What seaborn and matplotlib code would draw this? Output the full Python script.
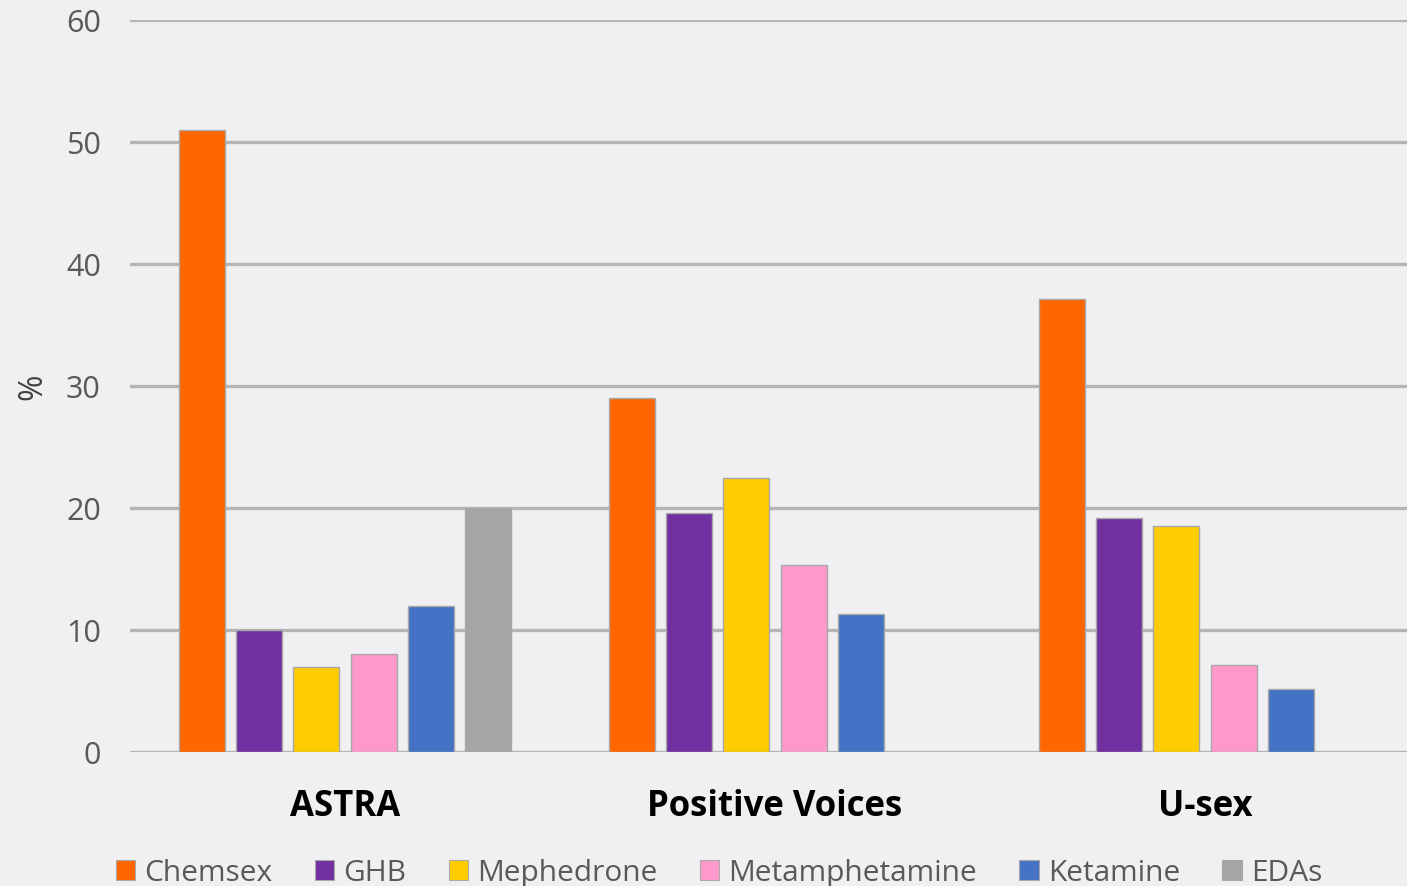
import matplotlib
matplotlib.use("Agg")
import matplotlib.pyplot as plt
import seaborn as sns
import pandas as pd
import numpy as np

# Prevalence of drug use (%) by study
studies = ["ASTRA", "Positive Voices", "U-sex"]
drugs = ["Chemsex", "GHB", "Mephedrone", "Metamphetamine", "Ketamine", "EDAs"]
chemsex = [51.0, 29.0, 37.1]
ghb = [10.0, 19.6, 19.2]
mephedrone = [7.0, 22.5, 18.5]
metamphetamine = [8.0, 15.3, 7.1]
ketamine = [12.0, 11.3, 5.2]
edas = [20.0, np.nan, np.nan]
colors = ["#FF6600", "#7030A0", "#FFCC00", "#FF99CC", "#4472C4", "#A5A5A5"]
yticks = [0, 10, 20, 30, 40, 50, 60]

series = [chemsex, ghb, mephedrone, metamphetamine, ketamine, edas]
rows = []
for drug, vals in zip(drugs, series):
    for study, v in zip(studies, vals):
        rows.append({"study": study, "drug": drug, "value": v})
df = pd.DataFrame(rows)

bg = "#F0F0F2"
sns.set_theme(style="white")
plt.rcParams["font.family"] = ["Open Sans", "DejaVu Sans"]

fig = plt.figure(figsize=(14.07, 8.87), dpi=100, facecolor=bg)
W, H = 1407, 887
ax = fig.add_axes([130 / W, (H - 753) / H, 1290 / W, (753 - 21) / H])
ax.set_facecolor(bg)

sns.barplot(data=df, x="study", y="value", hue="drug", hue_order=drugs,
            order=studies, palette=colors, saturation=1, width=0.8, gap=0.2,
            edgecolor="#A8A8A8", linewidth=1, errorbar=None, ax=ax,
            legend=False, zorder=3)

ax.set_xlim(-0.5, 2.5)
ax.set_ylim(0, 60)
ax.set_yticks(yticks)
ax.yaxis.grid(True, color="#B5B5B5", linewidth=2.4, zorder=0)
ax.set_axisbelow(True)
for s in ax.spines.values():
    s.set_visible(False)
ax.tick_params(axis="y", length=0, pad=21, labelsize=22, labelcolor="#595959")
ax.tick_params(axis="x", length=0, pad=26, labelsize=25)
for lbl in ax.get_xticklabels():
    lbl.set_fontweight("bold")
    lbl.set_color("black")
ax.set_xlabel("")
ax.set_ylabel("%", fontsize=23, color="#404040", labelpad=12)

handles = [plt.Rectangle((0, 0), 1, 1, facecolor=c, edgecolor="#A8A8A8", linewidth=0.8)
           for c in colors]
fig.legend(handles, drugs, loc="center left", bbox_to_anchor=(116 / W, (H - 874) / H),
           ncol=6, frameon=False, fontsize=21.5, handlelength=0.65, handleheight=0.65,
           handletextpad=0.3, columnspacing=1.42, labelcolor="#595959",
           borderaxespad=0, borderpad=0)

fig.savefig("out.png", dpi=100, facecolor=bg)
